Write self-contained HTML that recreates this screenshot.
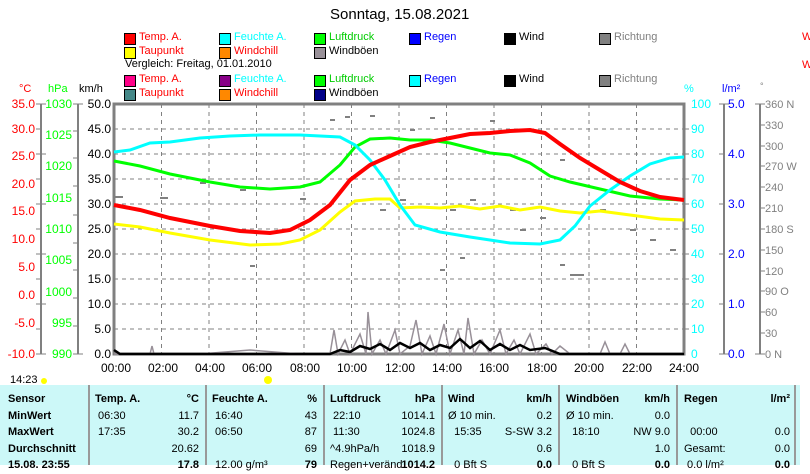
<!DOCTYPE html><html><head><meta charset="utf-8"><style>
body{margin:0;width:810px;height:465px;background:#fff;position:relative;overflow:hidden;font-family:"Liberation Sans",sans-serif;font-size:11px}
.a{position:absolute;white-space:nowrap}
.sq{position:absolute;width:10px;height:10px;border:1px solid #000}
.b{font-weight:bold}
</style></head><body>
<div class="a" style="left:330px;top:6px;font-size:15px">Sonntag, 15.08.2021</div>
<div class="sq" style="left:124px;top:33px;background:#f00"></div><div class="a" style="left:139px;top:31px;color:#f00">Temp. A.</div>
<div class="sq" style="left:219px;top:33px;background:#0ff"></div><div class="a" style="left:234px;top:31px;color:#0ff">Feuchte A.</div>
<div class="sq" style="left:314px;top:33px;background:#0f0"></div><div class="a" style="left:329px;top:31px;color:#0c0">Luftdruck</div>
<div class="sq" style="left:409px;top:33px;background:#00f"></div><div class="a" style="left:424px;top:31px;color:#00f">Regen</div>
<div class="sq" style="left:504px;top:33px;background:#000"></div><div class="a" style="left:519px;top:31px">Wind</div>
<div class="sq" style="left:599px;top:33px;background:#808080"></div><div class="a" style="left:614px;top:31px;color:#808080">Richtung</div>
<div class="sq" style="left:124px;top:47px;background:#ff0"></div><div class="a" style="left:139px;top:45px;color:#f00">Taupunkt</div>
<div class="sq" style="left:219px;top:47px;background:#f80"></div><div class="a" style="left:234px;top:45px;color:#f00">Windchill</div>
<div class="sq" style="left:314px;top:47px;background:#989098"></div><div class="a" style="left:329px;top:45px">Windböen</div>
<div class="a" style="left:125px;top:58px">Vergleich: Freitag, 01.01.2010</div>
<div class="sq" style="left:124px;top:75px;background:#f08"></div><div class="a" style="left:139px;top:73px;color:#f00">Temp. A.</div>
<div class="sq" style="left:219px;top:75px;background:#808"></div><div class="a" style="left:234px;top:73px;color:#0ff">Feuchte A.</div>
<div class="sq" style="left:314px;top:75px;background:#0f0"></div><div class="a" style="left:329px;top:73px;color:#0c0">Luftdruck</div>
<div class="sq" style="left:409px;top:75px;background:#0ff"></div><div class="a" style="left:424px;top:73px;color:#00f">Regen</div>
<div class="sq" style="left:504px;top:75px;background:#000"></div><div class="a" style="left:519px;top:73px">Wind</div>
<div class="sq" style="left:599px;top:75px;background:#808080"></div><div class="a" style="left:614px;top:73px;color:#808080">Richtung</div>
<div class="sq" style="left:124px;top:89px;background:#488"></div><div class="a" style="left:139px;top:87px;color:#f00">Taupunkt</div>
<div class="sq" style="left:219px;top:89px;background:#f80"></div><div class="a" style="left:234px;top:87px;color:#f00">Windchill</div>
<div class="sq" style="left:314px;top:89px;background:#008"></div><div class="a" style="left:329px;top:87px">Windböen</div>
<div class="a" style="left:802px;top:31px;color:#f00">W</div><div class="a" style="left:802px;top:59px;color:#f00">W</div>
<div class="a" style="left:19px;top:83px;color:#f00">°C</div><div class="a" style="left:48px;top:83px;color:#0f0">hPa</div><div class="a" style="left:79px;top:83px">km/h</div>
<div class="a" style="left:684px;top:83px;color:#0ff">%</div><div class="a" style="left:722px;top:83px;color:#00f">l/m²</div><div class="a" style="left:760px;top:81px;color:#808080;font-size:9px">°</div>
<svg class="a" style="left:0;top:0" width="810" height="465" font-family="Liberation Sans" font-size="12">
<g stroke="#808080" stroke-width="2" fill="none">
<line x1="41" y1="104" x2="41" y2="354"/><line x1="78" y1="104" x2="78" y2="354"/>
<line x1="724" y1="104" x2="724" y2="354"/><line x1="760" y1="104" x2="760" y2="354"/>
<rect x="114" y="104" width="570" height="250" stroke-width="3"/>
</g>
<g stroke="#808080" stroke-dasharray="4,4">
<path d="M114 129H684M114 154H684M114 179H684M114 204H684M114 229H684M114 254H684M114 279H684M114 304H684M114 329H684"/>
<path d="M161.5 104V354M209 104V354M256.5 104V354M304 104V354M351.5 104V354M399 104V354M446.5 104V354M494 104V354M541.5 104V354M589 104V354M636.5 104V354"/>
</g>
<g stroke="#808080"><path d="M36 104h10M36 129h5M36 154h10M36 179h5M36 204h10M36 229h5M36 254h10M36 279h5M36 304h10M36 329h5M36 354h10"/>
<path d="M73 104h10M73 131h5M73 158h5M73 186h5M73 215h5M73 243h5M73 270h5M73 298h5M73 326h5M73 354h10"/>
<path d="M719 104h10M719 154h5M719 204h5M719 254h5M719 304h5M719 354h10M755 104h10M755 354h10M684 129h5M684 154h5M684 179h5M684 204h5M684 229h5M684 254h5M684 279h5M684 304h5M684 329h5"/>
<path d="M760 125h5M760 146h5M760 166h5M760 187h5M760 208h5M760 229h5M760 250h5M760 271h5M760 291h5M760 312h5M760 333h5"/></g>
<g stroke="#808080" stroke-width="2"><path d="M115 197h8M160 198h8M200 183h6M240 190h6M300 199h6M330 120h5M345 117h5M370 116h5M380 210h6M400 200h6M410 130h5M430 118h5M450 210h6M470 200h6M490 121h5M510 210h6M520 230h6M540 218h6M560 160h5M570 275h14M600 210h6M630 230h6M650 240h6M670 250h6M440 270h5M460 258h5M300 230h5M250 266h5M560 265h5"/></g>
<g fill="#f00" text-anchor="end"><text x="35" y="108">35.0</text><text x="35" y="133">30.0</text><text x="35" y="160">25.0</text><text x="35" y="188">20.0</text><text x="35" y="215">15.0</text><text x="35" y="243">10.0</text><text x="35" y="271">5.0</text><text x="35" y="299">0.0</text><text x="35" y="327">-5.0</text><text x="35" y="358">-10.0</text></g>
<g fill="#0f0" text-anchor="end"><text x="72" y="108">1030</text><text x="72" y="139">1025</text><text x="72" y="170">1020</text><text x="72" y="202">1015</text><text x="72" y="233">1010</text><text x="72" y="264">1005</text><text x="72" y="296">1000</text><text x="72" y="327">995</text><text x="72" y="358">990</text></g>
<g fill="#000" text-anchor="end"><text x="111" y="108">50.0</text><text x="111" y="133">45.0</text><text x="111" y="158">40.0</text><text x="111" y="183">35.0</text><text x="111" y="208">30.0</text><text x="111" y="233">25.0</text><text x="111" y="258">20.0</text><text x="111" y="283">15.0</text><text x="111" y="308">10.0</text><text x="111" y="333">5.0</text><text x="111" y="358">0.0</text></g>
<g fill="#0ff"><text x="691" y="108">100</text><text x="691" y="133">90</text><text x="691" y="158">80</text><text x="691" y="183">70</text><text x="691" y="208">60</text><text x="691" y="233">50</text><text x="691" y="258">40</text><text x="691" y="283">30</text><text x="691" y="308">20</text><text x="691" y="333">10</text><text x="691" y="358">0</text></g>
<g fill="#00f"><text x="728" y="108">5.0</text><text x="728" y="158">4.0</text><text x="728" y="208">3.0</text><text x="728" y="258">2.0</text><text x="728" y="308">1.0</text><text x="728" y="358">0.0</text></g>
<g fill="#808080" font-size="11"><text x="765" y="108">360 N</text><text x="765" y="129">330</text><text x="765" y="150">300</text><text x="765" y="170">270 W</text><text x="765" y="191">240</text><text x="765" y="212">210</text><text x="765" y="233">180 S</text><text x="765" y="254">150</text><text x="765" y="275">120</text><text x="765" y="295">90  O</text><text x="765" y="316">60</text><text x="765" y="337">30</text><text x="765" y="358">0   N</text></g>
<g fill="#000" text-anchor="middle"><text x="116" y="372">00:00</text><text x="163" y="372">02:00</text><text x="210" y="372">04:00</text><text x="257" y="372">06:00</text><text x="305" y="372">08:00</text><text x="352" y="372">10:00</text><text x="400" y="372">12:00</text><text x="447" y="372">14:00</text><text x="494" y="372">16:00</text><text x="542" y="372">18:00</text><text x="589" y="372">20:00</text><text x="637" y="372">22:00</text><text x="684" y="372">24:00</text></g>
<text x="10" y="383" font-size="11">14:23</text><circle cx="44" cy="381" r="3" fill="#ff0"/><circle cx="268" cy="380" r="4" fill="#ff0"/>
<path fill="none" stroke="#989098" stroke-width="1.5" d="M114 354L150 354 152 346 154 354 200 354 250 350 300 354 330 354 334 330 338 354 345 340 350 354 360 334 366 354 368 312 372 354 380 340 386 354 395 330 400 354 410 346 416 320 422 354 430 336 436 354 444 324 450 354 458 330 464 354 468 318 474 354 482 340 490 354 500 330 506 354 514 340 520 354 530 334 536 354 546 344 552 354 560 346 570 354 600 354 605 342 610 354 620 354 625 344 630 354 684 354"/>
<path fill="none" stroke="#000" stroke-width="2.5" d="M114 350L120 354 330 354 340 350 350 352 360 346 370 349 380 344 390 350 400 343 410 348 420 343 430 350 440 345 450 348 460 339 470 348 480 341 490 350 500 344 510 350 520 345 530 350 545 348 560 354 684 354"/>
<path fill="none" stroke="#ff0" stroke-width="3" d="M114 224L140 227 170 233 210 240 250 245 280 244 300 240 320 230 340 212 355 201 375 199 390 199 400 208 420 207 440 208 460 206 480 209 500 206 520 210 540 207 560 211 580 213 600 211 630 215 660 219 684 220"/>
<path fill="none" stroke="#0f0" stroke-width="3" d="M114 161L140 166 170 174 210 182 240 187 270 189 300 187 320 182 340 165 355 147 370 139 390 138 410 140 430 140 450 143 470 148 490 153 510 155 530 163 550 176 570 182 600 189 630 196 660 199 684 200"/>
<path fill="none" stroke="#0ff" stroke-width="3" d="M114 152L130 150 150 143 170 142 200 138 230 136 260 135 300 135 340 137 355 145 370 160 385 180 400 205 415 225 440 232 470 237 490 240 510 243 540 244 560 240 575 226 590 206 610 190 630 176 650 164 670 158 684 157"/>
<path fill="none" stroke="#f00" stroke-width="4" d="M114 205L140 210 170 218 210 226 240 231 270 233 290 230 310 220 330 205 350 180 370 165 390 156 410 147 430 142 450 138 470 134 490 133 510 131 530 130 545 133 560 144 580 158 600 170 620 182 640 191 660 197 684 200"/>
</svg>
<div class="a" style="left:0;top:385px;width:800px;height:80px;background:#ccf8f8"></div>
<div class="a" style="left:88px;top:385px;width:2px;height:80px;background:#999"></div>
<div class="a" style="left:205px;top:385px;width:2px;height:80px;background:#999"></div>
<div class="a" style="left:323px;top:385px;width:2px;height:80px;background:#999"></div>
<div class="a" style="left:441px;top:385px;width:2px;height:80px;background:#999"></div>
<div class="a" style="left:558px;top:385px;width:2px;height:80px;background:#999"></div>
<div class="a" style="left:676px;top:385px;width:2px;height:80px;background:#999"></div>
<div class="a" style="left:794px;top:385px;width:2px;height:80px;background:#999"></div>
<div class="a b" style="left:8px;top:391px;line-height:16.5px">Sensor<br>MinWert<br>MaxWert<br>Durchschnitt<br>15.08. 23:55</div>
<div class="a" style="left:95px;top:391px;line-height:16.5px"><b>Temp. A.</b><br>&nbsp;06:30<br>&nbsp;17:35</div>
<div class="a" style="left:150px;top:391px;width:49px;text-align:right;line-height:16.5px"><b>°C</b><br>11.7<br>30.2<br>20.62<br><b>17.8</b></div>
<div class="a" style="left:212px;top:391px;line-height:16.5px"><b>Feuchte A.</b><br>&nbsp;16:40<br>&nbsp;06:50<br><br>&nbsp;12.00 g/m³</div>
<div class="a" style="left:270px;top:391px;width:47px;text-align:right;line-height:16.5px"><b>%</b><br>43<br>87<br>69<br><b>79</b></div>
<div class="a" style="left:330px;top:391px;line-height:16.5px"><b>Luftdruck</b><br>&nbsp;22:10<br>&nbsp;11:30<br>^4.9hPa/h<br>Regen+veränd.</div>
<div class="a" style="left:390px;top:391px;width:45px;text-align:right;line-height:16.5px"><b>hPa</b><br>1014.1<br>1024.8<br>1018.9<br><b>1014.2</b></div>
<div class="a" style="left:448px;top:391px;line-height:16.5px"><b>Wind</b><br>Ø 10 min.<br>&nbsp;&nbsp;15:35<br><br>&nbsp;&nbsp;0 Bft S</div>
<div class="a" style="left:490px;top:391px;width:62px;text-align:right;line-height:16.5px"><b>km/h</b><br>0.2<br>S-SW 3.2<br>0.6<br><b>0.0</b></div>
<div class="a" style="left:566px;top:391px;line-height:16.5px"><b>Windböen</b><br>Ø 10 min.<br>&nbsp;&nbsp;18:10<br><br>&nbsp;&nbsp;0 Bft S</div>
<div class="a" style="left:610px;top:391px;width:60px;text-align:right;line-height:16.5px"><b>km/h</b><br>0.0<br>NW 9.0<br>1.0<br><b>0.0</b></div>
<div class="a" style="left:684px;top:391px;line-height:16.5px"><b>Regen</b><br><br>&nbsp;&nbsp;00:00<br>Gesamt:<br>&nbsp;0.0 l/m²</div>
<div class="a" style="left:740px;top:391px;width:50px;text-align:right;line-height:16.5px"><b>l/m²</b><br><br>0.0<br>0.0<br><b>0.0</b></div>
</body></html>
